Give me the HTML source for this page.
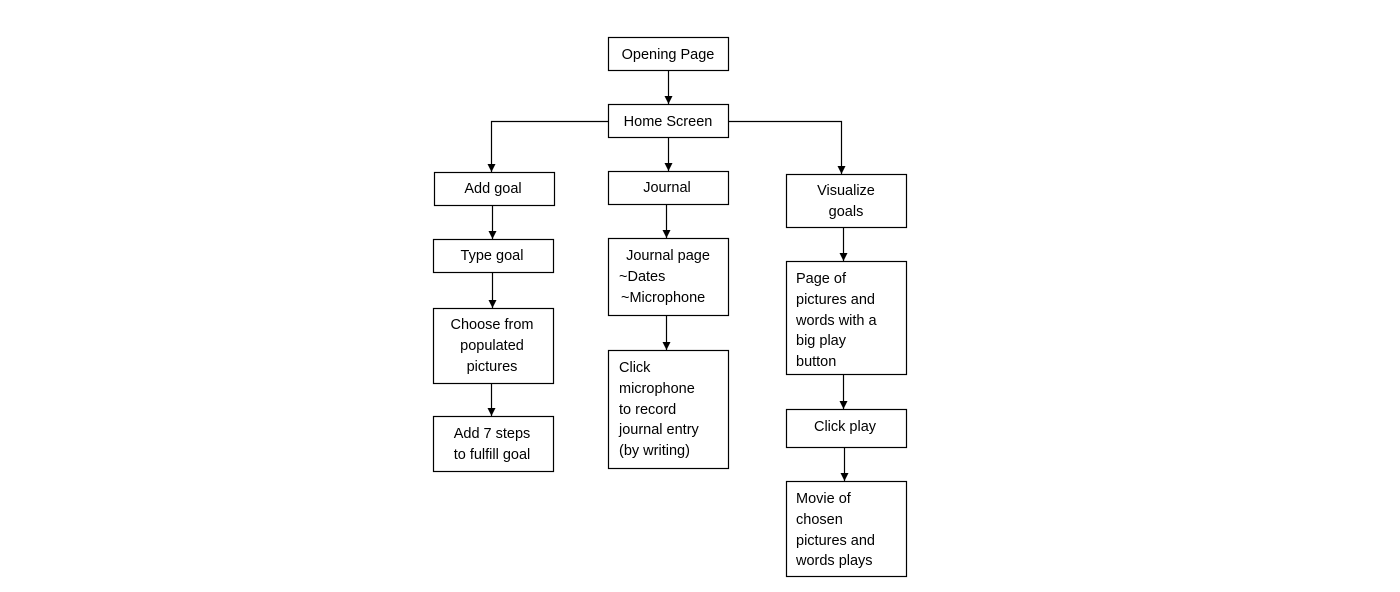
<!DOCTYPE html>
<html><head><style>body{margin:0;background:#fff}svg{display:block}text{font-family:"Liberation Sans",sans-serif;font-size:14.5px;fill:#000}</style></head>
<body>
<svg width="1400" height="592" xmlns="http://www.w3.org/2000/svg">
<defs><marker id="a" markerWidth="9" markerHeight="9" refX="8" refY="4" orient="auto" markerUnits="userSpaceOnUse"><path d="M0,0 L8,4 L0,8 Z" fill="#000"/></marker></defs>
<g fill="#fff" stroke="#000" stroke-width="1.2">
<rect x="608.5" y="37.5" width="120" height="33"/>
<rect x="608.5" y="104.5" width="120" height="33"/>
<rect x="434.5" y="172.5" width="120" height="33"/>
<rect x="608.5" y="171.5" width="120" height="33"/>
<rect x="786.5" y="174.5" width="120" height="53"/>
<rect x="433.5" y="239.5" width="120" height="33"/>
<rect x="433.5" y="308.5" width="120" height="75"/>
<rect x="433.5" y="416.5" width="120" height="55"/>
<rect x="608.5" y="238.5" width="120" height="77"/>
<rect x="608.5" y="350.5" width="120" height="118"/>
<rect x="786.5" y="261.5" width="120" height="113"/>
<rect x="786.5" y="409.5" width="120" height="38"/>
<rect x="786.5" y="481.5" width="120" height="95"/>
</g>
<g stroke="#000" stroke-width="1.2" fill="none" marker-end="url(#a)">
<path d="M668.5 71 V104"/>
<path d="M608 121.5 H491.5 V172"/>
<path d="M668.5 138 V171"/>
<path d="M729 121.5 H841.5 V174"/>
<path d="M492.5 206 V239"/>
<path d="M492.5 273 V308"/>
<path d="M491.5 384 V416"/>
<path d="M666.5 205 V238"/>
<path d="M666.5 316 V350"/>
<path d="M843.5 228 V261"/>
<path d="M843.5 375 V409"/>
<path d="M844.5 448 V481"/>
</g>
<g text-anchor="middle">
<text x="668" y="59">Opening Page</text>
<text x="668" y="126">Home Screen</text>
<text x="493" y="193">Add goal</text>
<text x="667" y="192">Journal</text>
<text x="846" y="195">Visualize</text>
<text x="846" y="216">goals</text>
<text x="492" y="260">Type goal</text>
<text x="492" y="329">Choose from</text>
<text x="492" y="350">populated</text>
<text x="492" y="371">pictures</text>
<text x="492" y="438">Add 7 steps</text>
<text x="492" y="459">to fulfill goal</text>
<text x="668" y="260">Journal page</text>
</g>
<text x="619" y="281">~Dates</text>
<text x="621" y="302">~Microphone</text>
<text x="619" y="372">Click</text>
<text x="619" y="393">microphone</text>
<text x="619" y="414">to record</text>
<text x="619" y="434">journal entry</text>
<text x="619" y="455">(by writing)</text>
<text x="796" y="283">Page of</text>
<text x="796" y="304">pictures and</text>
<text x="796" y="325">words with a</text>
<text x="796" y="345">big play</text>
<text x="796" y="366">button</text>
<text x="845" y="431" text-anchor="middle">Click play</text>
<text x="796" y="503">Movie of</text>
<text x="796" y="524">chosen</text>
<text x="796" y="545">pictures and</text>
<text x="796" y="565">words plays</text>
</svg>
</body></html>
